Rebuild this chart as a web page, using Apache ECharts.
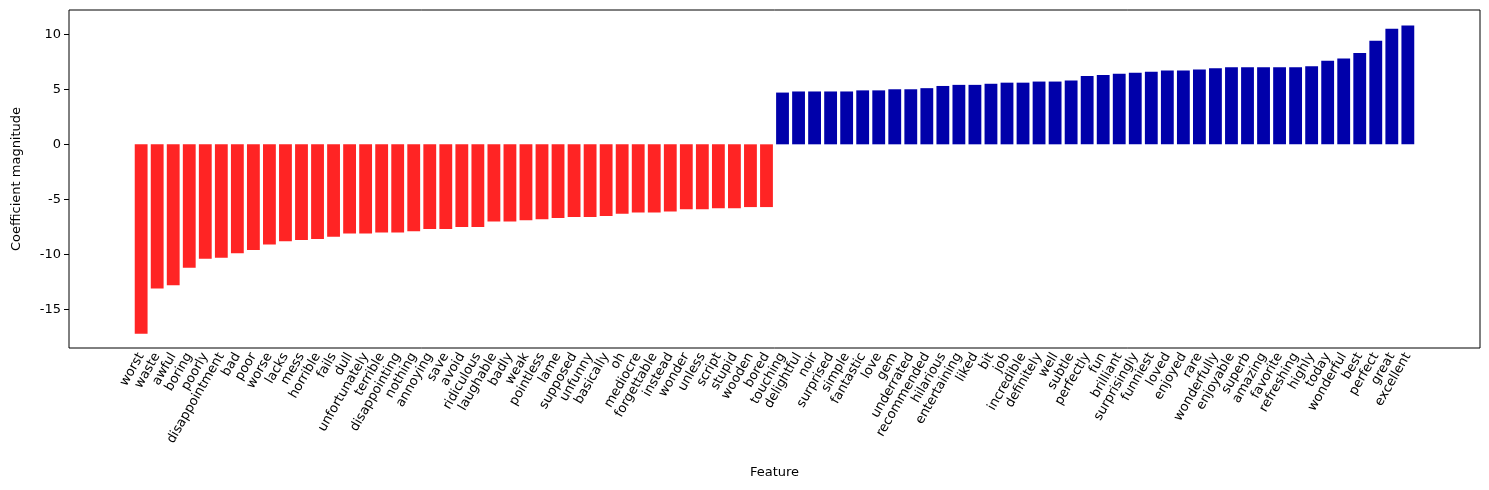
<!DOCTYPE html>
<html>
<head>
<meta charset="utf-8">
<script src="https://cdn.jsdelivr.net/npm/echarts@6/dist/echarts.min.js"></script>
<style>html,body{margin:0;padding:0;background:#fff}#chart{width:1489px;height:490px}</style>
</head>
<body>
<div id="chart"></div>
<script>
var negWords = ['worst','waste','awful','boring','poorly','disappointment','bad','poor','worse','lacks',
  'mess','horrible','fails','dull','unfortunately','terrible','disappointing','nothing','annoying','save',
  'avoid','ridiculous','laughable','badly','weak','pointless','lame','supposed','unfunny','basically',
  'oh','mediocre','forgettable','instead','wonder','unless','script','stupid','wooden','bored'];
var negValues = [-17.2,-13.1,-12.8,-11.2,-10.4,-10.3,-9.9,-9.6,-9.1,-8.8,
  -8.7,-8.6,-8.4,-8.1,-8.1,-8.0,-8.0,-7.9,-7.7,-7.7,
  -7.5,-7.5,-7.0,-7.0,-6.9,-6.8,-6.7,-6.6,-6.6,-6.5,
  -6.3,-6.2,-6.2,-6.1,-5.9,-5.9,-5.8,-5.8,-5.7,-5.7];
var posWords = ['touching','delightful','noir','surprised','simple','fantastic','love','gem','underrated','recommended',
  'hilarious','entertaining','liked','bit','job','incredible','definitely','well','subtle','perfectly',
  'fun','brilliant','surprisingly','funniest','loved','enjoyed','rare','wonderfully','enjoyable','superb',
  'amazing','favorite','refreshing','highly','today','wonderful','best','perfect','great','excellent'];
var posValues = [4.7,4.8,4.8,4.8,4.8,4.9,4.9,5.0,5.0,5.1,
  5.3,5.4,5.4,5.5,5.6,5.6,5.7,5.7,5.8,6.2,
  6.3,6.4,6.5,6.6,6.7,6.7,6.8,6.9,7.0,7.0,
  7.0,7.0,7.0,7.1,7.6,7.8,8.3,9.4,10.5,10.8];
var yTicks = [-15, -10, -5, 0, 5, 10];

var pad = 4;
var cats = [], data = [];
for (var i = 0; i < pad; i++) { cats.push(''); data.push('-'); }
negWords.forEach(function (w, i) { cats.push(w); data.push({value: negValues[i], itemStyle: {color: '#ff2424'}}); });
posWords.forEach(function (w, i) { cats.push(w); data.push({value: posValues[i], itemStyle: {color: '#0000aa'}}); });
for (var j = 0; j < pad; j++) { cats.push(' '); data.push('-'); }

var chart = echarts.init(document.getElementById('chart'));
var txt = {color: '#000', fontFamily: 'DejaVu Sans', fontSize: 13};
chart.setOption({
  animation: false,
  grid: {left: 69, top: 10, width: 1411, height: 338, show: true, borderColor: '#000', borderWidth: 1},
  xAxis: {
    type: 'category', data: cats,
    name: 'Feature', nameLocation: 'middle', nameGap: 118, nameTextStyle: txt,
    axisLine: {show: false},
    axisTick: {alignWithLabel: true, interval: function (i, v) { return v.trim() !== ''; }, lineStyle: {color: '#000'}},
    axisLabel: Object.assign({rotate: 60, interval: 0, margin: 6}, txt)
  },
  yAxis: {
    type: 'value', min: -18.5, max: 12.2,
    name: 'Coefficient magnitude', nameLocation: 'middle', nameGap: 46, nameTextStyle: txt,
    splitLine: {show: false},
    axisLine: {show: false},
    axisTick: {show: true, customValues: yTicks, lineStyle: {color: '#000'}},
    axisLabel: Object.assign({customValues: yTicks}, txt)
  },
  series: [{type: 'bar', data: data, barWidth: '80%'}]
});
</script>
</body>
</html>
